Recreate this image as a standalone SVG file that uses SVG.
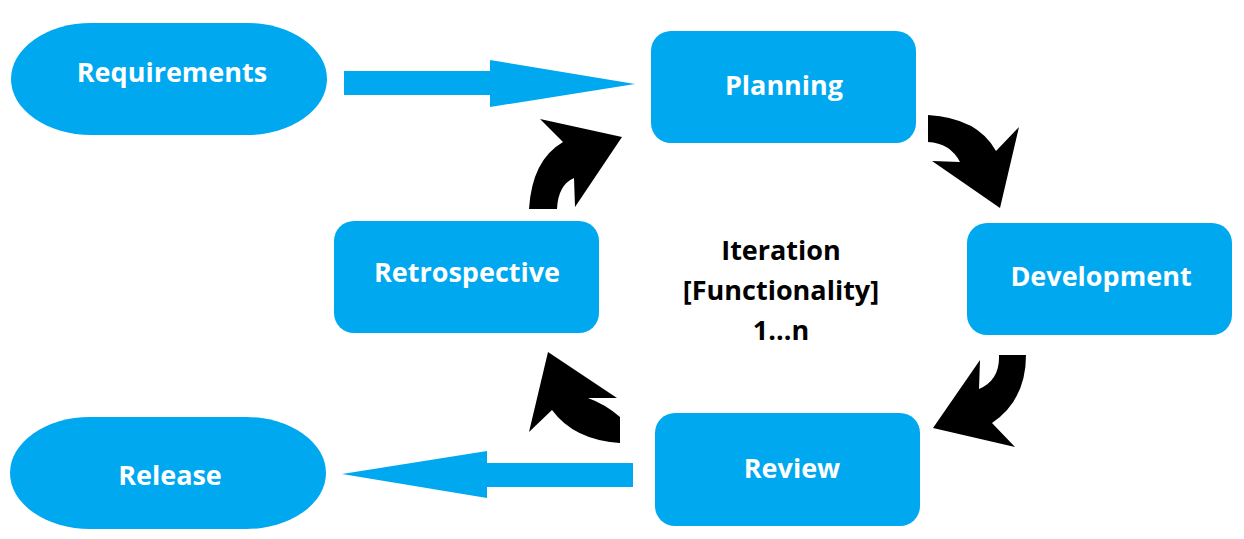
<svg xmlns="http://www.w3.org/2000/svg" width="1244" height="539" viewBox="0 0 1244 539">
<style>
.node{fill:#00A8F0}
.lbl{font-family:"Open Sans","Noto Sans",sans-serif;font-weight:700;font-size:27px;fill:#fff;text-anchor:middle}
.mid{font-family:"Open Sans","Noto Sans",sans-serif;font-weight:700;font-size:27px;fill:#000;text-anchor:middle}
.blue{fill:#00A8F0}
.blk{fill:#000}
</style>
<rect width="1244" height="539" fill="#fff"/>
<g id="connectors">
<polygon class="blue" points="344,71 490,71 490,60 635,84 490,107 490,95 344,95"/>
<polygon class="blue" points="633,463 487,463 487,451 342,474 487,498 487,487 633,487"/>
<path class="blk" d="M928,115 Q978,118 996,151 L1019,127 L1000,208 L932,161 L960,162 Q950,143 928,142 Z"/>
<path class="blk" d="M999,355 Q1000,380 979,389 L980,360 L933,428 L1015,447 L992,423 Q1026,400 1026,355 Z"/>
<path class="blk" d="M548,352 L617,398 L588,398 Q605,404 620,417 L620,443 Q574,440 552,410 L529,432 Z"/>
<path class="blk" d="M622,137 L540,119 L563,142 Q532,160 529,209 L557,209 Q558,185 574,178 L575,207 Z"/>
</g>
<g id="requirements"><rect class="node" x="11" y="23" width="316" height="112" rx="80" ry="56"/><text class="lbl" x="172" y="82">Requirements</text></g>
<g id="planning"><rect class="node" x="651" y="31" width="265" height="112" rx="20"/><text class="lbl" x="784" y="95">Planning</text></g>
<g id="development"><rect class="node" x="967" y="223" width="265" height="112" rx="20"/><text class="lbl" x="1101" y="286">Development</text></g>
<g id="retrospective"><rect class="node" x="334" y="221" width="265" height="112" rx="20"/><text class="lbl" x="467" y="282">Retrospective</text></g>
<g id="review"><rect class="node" x="655" y="413" width="265" height="113" rx="20"/><text class="lbl" x="792" y="478">Review</text></g>
<g id="release"><rect class="node" x="10" y="417" width="316" height="112" rx="80" ry="56"/><text class="lbl" x="170" y="485">Release</text></g>
<g id="iteration"><text class="mid" x="781" y="260">Iteration</text><text class="mid" x="781" y="300">[Functionality]</text><text class="mid" x="781" y="340">1...n</text></g>
</svg>
